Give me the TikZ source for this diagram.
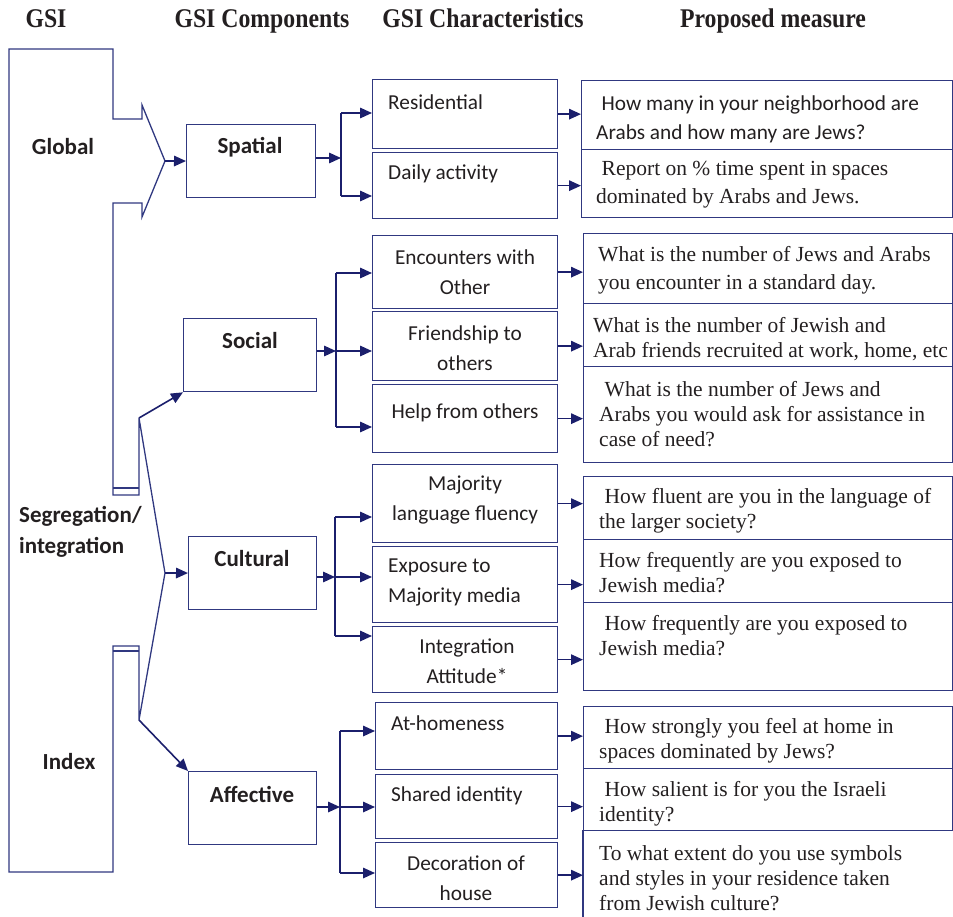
\documentclass[tikz,border=0pt]{standalone}
\usepackage{fontspec}
\setmainfont{Liberation Serif}
\newfontfamily\calfont{Carlito}
\newfontfamily\headfont[FakeStretch=0.88]{Liberation Serif}
\usetikzlibrary{arrows.meta}
\usetikzlibrary{positioning}
\definecolor{boxblue}{RGB}{48,56,128}
\definecolor{arrowblue}{RGB}{27,31,108}
\definecolor{inkgray}{RGB}{35,31,32}
\newcommand{\colfont}{\headfont\bfseries\fontsize{27}{30}\selectfont}
\newcommand{\gsifont}{\calfont\bfseries\fontsize{23}{31}\selectfont}
\newcommand{\charfont}{\calfont\fontsize{21.3}{30}\selectfont}
\newcommand{\measfont}{\fontsize{21.5}{25}\selectfont}
\newcommand{\leadgap}{\hspace*{5.5pt}}

\begin{document}
\begin{tikzpicture}[x=1pt,y=-1pt,>={Triangle[length=12pt,width=10.5pt]},
		boxline/.style={draw=boxblue,line width=1.3pt},
		compbox/.style={boxline,anchor=north west,inner sep=0pt,minimum width=128pt,minimum height=73pt},
		charbox/.style={boxline,anchor=north west,inner sep=0pt,minimum width=185pt},
		measbox/.style={boxline,anchor=north west,inner sep=0pt,minimum width=369pt},
		arr/.style={->,draw=arrowblue,line width=1.6pt},
		link/.style={draw=arrowblue,line width=1.6pt},
		txt/.style={inner sep=0pt,text=inkgray},
		headtext/.style={txt,font=\colfont,anchor=base},
		gsitext/.style={txt,font=\gsifont},
		chartext/.style={txt,font=\charfont,align=center},
		meastext/.style={txt,font=\measfont,align=left,anchor=west}]
		\useasboundingbox (0,0) rectangle (953,917);
		
		\node[headtext] (hGSI)  at (46,28)  {GSI};
		\node[headtext] (hComp) at (262,28) {GSI Components};
		\node[headtext] (hChar) at (483,28) {GSI Characteristics};
		\node[headtext] (hMeas) at (773,28) {Proposed measure};
		
		\draw[boxline] (9,49) -- (113,49) -- (113,119) -- (142,119) -- (142,105)
			-- (165,161) coordinate (tipG) -- (142,217) -- (142,203) -- (113,203)
			-- (113,495) -- (139,495) -- (139,418) coordinate (tipS)
			-- (165,573) coordinate (tipC) -- (139,720) coordinate (tipA)
			-- (139,646) -- (113,646) -- (113,872) -- (9,872) -- cycle;
		\draw[boxline] (113,488) -- (139,488) (113,651) -- (139,651);
		\node[gsitext] (lGlobal) at (63,147) {Global};
		\node[gsitext,align=left,anchor=west] (lSeg) at (19,532) {Segregation/\\integration};
		\node[gsitext] (lIndex) at (69,762) {Index};
		
		\node[compbox,minimum width=129pt] (spatial)   at (186,124) {};
		\node[compbox,minimum width=133pt] (social)    at (183,318) {};
		\node[compbox]                     (cultural)  at (188,536) {};
		\node[compbox]                     (affective) at (188,771) {};
		\node[gsitext] (tSpatial)   at (250,147) {Spatial};
		\node[gsitext] (tSocial)    at (250,341) {Social};
		\node[gsitext] (tCultural)  at (252,559) {Cultural};
		\node[gsitext] (tAffective) at (252,794) {Affective};
		
		\draw[arr] (tipG) -- (spatial);
		\draw[arr] (tipS) -- (social.south west);
		\draw[arr] (tipC) -- (cultural);
		\draw[arr] (tipA) -- (affective.north west);
		
		\node[charbox,minimum height=69pt] (resid)    at (372,79)  {};
		\node[charbox,minimum height=66pt] (daily)    at (372,152) {};
		\node[charbox,minimum height=73pt] (encount)  at (372,235) {};
		\node[charbox,minimum height=69pt] (friend)   at (372,311) {};
		\node[charbox,minimum height=68pt] (help)     at (372,384) {};
		\node[charbox,minimum height=78pt] (majlang)  at (372,464) {};
		\node[charbox,minimum height=76pt] (expmedia) at (372,546) {};
		\node[charbox,minimum height=66pt] (integ)    at (372,626) {};
		\node[charbox,minimum width=182pt,minimum height=67pt] (athome) at (375,702) {};
		\node[charbox,minimum width=182pt,minimum height=64pt] (shared) at (375,774) {};
		\node[charbox,minimum width=182pt,minimum height=65pt] (decor)  at (375,842) {};
		
		\node[chartext,anchor=west] (tResid) at (388,102) {Residential};
		\node[chartext,anchor=west] (tDaily) at (388,174) {Daily activity};
		\node[chartext] (tEncount) at (465,272) {Encounters with\\Other};
		\node[chartext] (tFriend)  at (465,348) {Friendship to\\others};
		\node[chartext] (tHelp)    at (465,413) {Help from others};
		\node[chartext] (tMajlang) at (465,500) {Majority\\language fluency};
		\node[chartext,anchor=west,align=left] (tExp) at (388,582) {Exposure to\\Majority media};
		\node[chartext] (tInteg)   at (467,661) {Integration\\Attitude*};
		\node[chartext,anchor=west] (tAthome) at (391,723) {At-homeness};
		\node[chartext,anchor=west] (tShared) at (391,796) {Shared identity};
		\node[chartext] (tDecor)   at (466,878) {Decoration of\\house};
		
		\coordinate (jS)  at (341,158);
		\coordinate (jS1) at (341,113);
		\coordinate (jS2) at (341,196);
		\draw[arr] (jS -| spatial.east) -- (jS);
		\draw[link] (jS1) -- (jS2);
		\draw[arr] (jS1) -- (jS1 -| resid.west);
		\draw[arr] (jS2) -- (jS2 -| daily.west);
		
		\coordinate (jSo)  at (336,351);
		\coordinate (jSo1) at (336,273);
		\coordinate (jSo3) at (336,427);
		\draw[arr] (jSo -| social.east) -- (jSo);
		\draw[link] (jSo1) -- (jSo3);
		\draw[arr] (jSo1) -- (jSo1 -| encount.west);
		\draw[arr] (jSo) -- (jSo -| friend.west);
		\draw[arr] (jSo3) -- (jSo3 -| help.west);
		
		\coordinate (jC)  at (335,577);
		\coordinate (jC1) at (335,517);
		\coordinate (jC3) at (335,636);
		\draw[arr] (jC -| cultural.east) -- (jC);
		\draw[link] (jC1) -- (jC3);
		\draw[arr] (jC1) -- (jC1 -| majlang.west);
		\draw[arr] (jC) -- (jC -| expmedia.west);
		\draw[arr] (jC3) -- (jC3 -| integ.west);
		
		\coordinate (jA)  at (340,807);
		\coordinate (jA1) at (340,731);
		\coordinate (jA3) at (340,873);
		\draw[arr] (jA -| affective.east) -- (jA);
		\draw[link] (jA1) -- (jA3);
		\draw[arr] (jA1) -- (jA1 -| athome.west);
		\draw[arr] (jA) -- (jA -| shared.west);
		\draw[arr] (jA3) -- (jA3 -| decor.west);
		
		\node[measbox,minimum width=371pt,minimum height=69pt] (m11) at (581,80)  {};
		\node[measbox,minimum width=371pt,minimum height=68pt] (m12) at (581,149) {};
		\node[measbox,minimum height=70pt] (m21) at (583,233) {};
		\node[measbox,minimum height=63pt] (m22) at (583,303) {};
		\node[measbox,minimum height=96pt] (m23) at (583,366) {};
		\node[measbox,minimum height=63pt] (m31) at (583,476) {};
		\node[measbox,minimum height=63pt] (m32) at (583,539) {};
		\node[measbox,minimum height=88pt] (m33) at (583,602) {};
		\node[measbox,minimum height=62pt] (m41) at (583,706) {};
		\node[measbox,minimum height=62pt] (m42) at (583,768) {};
		\node[measbox,draw=none,minimum height=90pt] (m43) at (583,830) {};
		\draw[boxline] (m43.north west) -- (m43.south west);
		
		\draw[arr] (resid.east)    -- (resid.east -| m11.west);
		\draw[arr] (daily.east)    -- (daily.east -| m12.west);
		\draw[arr] (encount.east)  -- (encount.east -| m21.west);
		\draw[arr] (friend.east)   -- (friend.east -| m22.west);
		\draw[arr] (help.east)     -- (help.east -| m23.west);
		\draw[arr] (majlang.east)  -- (majlang.east -| m31.west);
		\draw[arr] (expmedia.east) -- (expmedia.east -| m32.west);
		\draw[arr] (integ.east)    -- (integ.east -| m33.west);
		\draw[arr] (athome.east)   -- (athome.east -| m41.west);
		\draw[arr] (shared.east)   -- (shared.east -| m42.west);
		\draw[arr] (decor.east)    -- (decor.east -| m43.west);
		
		\node[meastext,font=\charfont] (q11) at (596,119) {\leadgap How many in your neighborhood are\\[-1pt]Arabs and how many are Jews?};
		\node[meastext] (q12) at (596,185) {\leadgap Report on \% time spent in spaces\\[3pt]dominated by Arabs and Jews.};
		\node[meastext] (q21) at (598,270) {What is the number of Jews and Arabs\\[3pt]you encounter in a standard day.};
		\node[meastext] (q22) at (593,339) {What is the number of Jewish and\\Arab friends recruited at work, home, etc};
		\node[meastext] (q23) at (599,414) {\leadgap What is the number of Jews and\\Arabs you would ask for assistance in\\case of need?};
		\node[meastext] (q31) at (599,511) {\leadgap How fluent are you in the language of\\the larger society?};
		\node[meastext] (q32) at (599,573) {How frequently are you exposed to\\Jewish media?};
		\node[meastext] (q33) at (599,636) {\leadgap How frequently are you exposed to\\Jewish media?};
		\node[meastext] (q41) at (599,741) {\leadgap How strongly you feel at home in\\spaces dominated by Jews?};
		\node[meastext] (q42) at (599,804) {\leadgap How salient is for you the Israeli\\identity?};
		\node[meastext] (q43) at (599,878) {To what extent do you use symbols\\and styles in your residence taken\\from Jewish culture?};
		\end{tikzpicture}
\end{document}
